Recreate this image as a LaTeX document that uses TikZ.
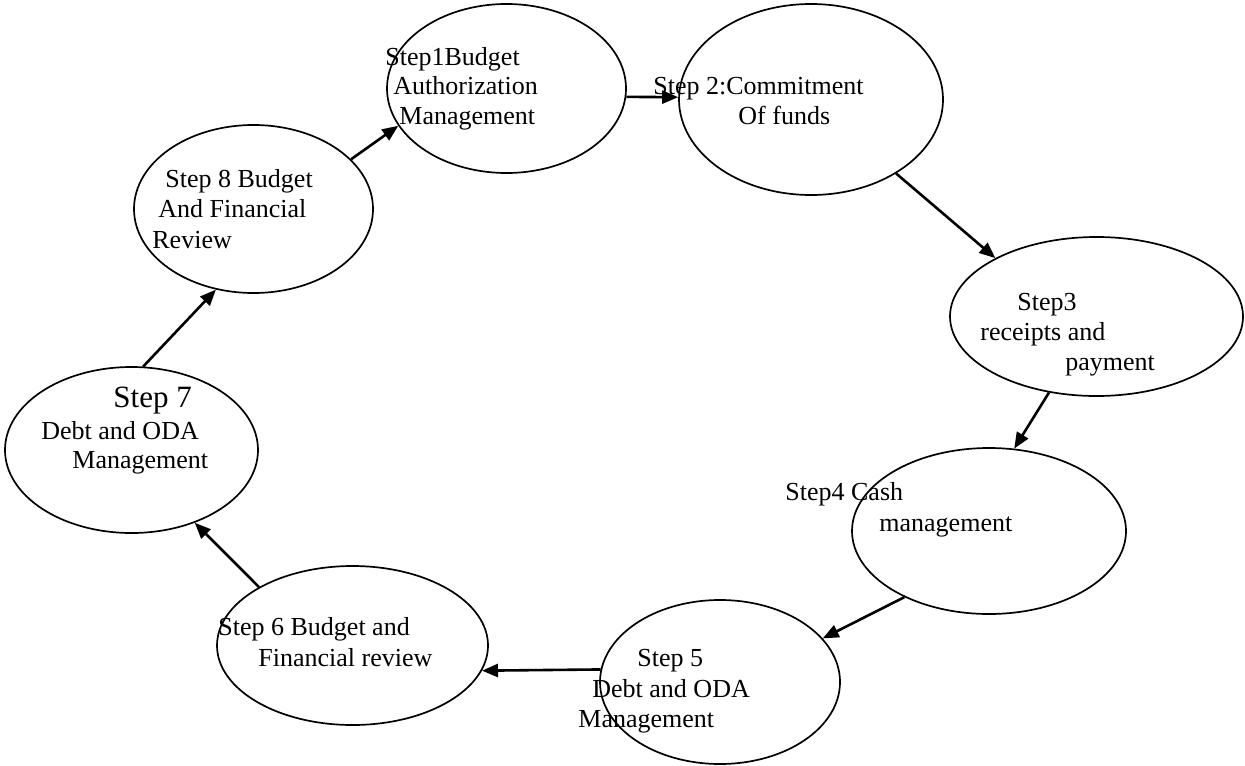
\documentclass[tikz,border=0pt]{standalone}
\usepackage{fontspec}
\setmainfont{Liberation Serif}
\usetikzlibrary{shapes.geometric,arrows.meta}
\begin{document}
\begin{tikzpicture}[x=0.5pt,y=-0.5pt,
  stage/.style={ellipse,draw,line width=0.85pt,inner sep=0pt},
  lbl/.style={anchor=base west,inner sep=0pt,font=\fontsize{13}{15}\selectfont},
  biglbl/.style={lbl,font=\fontsize{15.5}{18}\selectfont},
  flow/.style={line width=1.3pt,-{Triangle[length=8pt,width=6.5pt]}}]
\useasboundingbox (0,0) rectangle (1245,765);

% the eight stages of the cycle
\node[stage,minimum width=119.5pt,minimum height=84.5pt] (e1) at (506.5,88.5) {};
\node[stage,minimum width=132pt,minimum height=95.5pt] (e2) at (811,99.5) {};
\node[stage,minimum width=146.5pt,minimum height=79.5pt] (e3) at (1096.5,316.5) {};
\node[stage,minimum width=137pt,minimum height=83pt] (e4) at (989,531) {};
\node[stage,minimum width=120pt,minimum height=82pt] (e5) at (720,682) {};
\node[stage,minimum width=135.5pt,minimum height=79.5pt] (e6) at (352.5,645.5) {};
\node[stage,minimum width=126.5pt,minimum height=83pt] (e7) at (131.5,450) {};
\node[stage,minimum width=119.5pt,minimum height=84pt] (e8) at (253.5,209) {};

% labels, one node per line
\node[lbl] (t1a) at (385,66) {Step1Budget};
\node[lbl] (t1b) at (393,95) {Authorization};
\node[lbl] (t1c) at (399,125) {Management};

\node[lbl] (t2a) at (653,95) {Step 2:Commitment};
\node[lbl] (t2b) at (738,125) {Of funds};

\node[lbl] (t3a) at (1017,310) {Step3};
\node[lbl] (t3b) at (980,340) {receipts and};
\node[lbl] (t3c) at (1065,370) {payment};

\node[lbl] (t4a) at (785,500) {Step4 Cash};
\node[lbl] (t4b) at (879,531) {management};

\node[lbl] (t5a) at (637,666) {Step 5};
\node[lbl] (t5b) at (592,697) {Debt and ODA};
\node[lbl] (t5c) at (578,727) {Management};

\node[lbl] (t6a) at (218,635) {Step 6 Budget and};
\node[lbl] (t6b) at (258,666) {Financial review};

\node[biglbl] (t7a) at (113,407) {Step 7};
\node[lbl] (t7b) at (41,439) {Debt and ODA};
\node[lbl] (t7c) at (72,468) {Management};

\node[lbl] (t8a) at (165,187) {Step 8 Budget};
\node[lbl] (t8b) at (158,217) {And Financial};
\node[lbl] (t8c) at (152,248) {Review};

% arrows around the cycle
\draw[flow] (e1.-4) -- (e2.179);
\draw[flow] (e2.-41) -- (e3.150);
\draw[flow] (e3.238) -- (e4.73);
\draw[flow] (e4.218) -- (e5.23);
\draw[flow] (e5.174) -- (e6.-11);
\draw[flow] (e6.148) -- (e7.-49);
\draw[flow] (e7.82) -- (e8.245);
\draw[flow] (e8.27) -- (e1.199);
\end{tikzpicture}
\end{document}
